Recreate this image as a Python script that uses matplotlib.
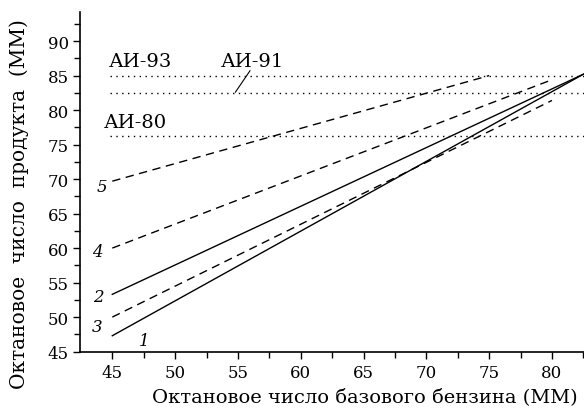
import matplotlib
matplotlib.use('Agg')
import matplotlib.pyplot as plt

plt.rcParams['font.family'] = ['DejaVu Serif']

# curves: start and end points
curve_names = ['1', '2', '3', '4', '5']
curve_x = [[45, 82.5], [45, 82.5], [45, 80.0], [45, 80.0], [45, 75.0]]
curve_y = [[47.3, 85.2], [53.3, 85.2], [50.0, 81.4], [60.0, 84.4], [69.7, 85.0]]
curve_styles = ['-', '-', '--', '--', '--']

# grade levels
grade_names = ['АИ-93', 'АИ-91', 'АИ-80']
grade_levels = [85.0, 82.5, 76.3]

x_ticks = [45, 50, 55, 60, 65, 70, 75, 80]
y_ticks = [45, 50, 55, 60, 65, 70, 75, 80, 85, 90]

fig = plt.figure(figsize=(5.84, 4.10), dpi=100)
ax = fig.add_axes([0.137, 0.14, 0.863, 0.828])

# horizontal dotted grade lines
for level in grade_levels:
    ax.plot([44.8, 83], [level, level], color='black', lw=1.0, linestyle=(0, (1, 3.2)))

# curves
for name, xs, ys, style in zip(curve_names, curve_x, curve_y, curve_styles):
    if style == '--':
        ax.plot(xs, ys, color='black', lw=1.0, linestyle=(0, (6, 4)))
    else:
        ax.plot(xs, ys, color='black', lw=1.0)

# curve numbers
num_pos = {'1': (47.5, 46.0), '2': (43.9, 52.3), '3': (43.8, 48.0), '4': (43.8, 58.8), '5': (44.2, 68.3)}
for name in curve_names:
    ax.text(num_pos[name][0], num_pos[name][1], name, fontsize=12, style='italic', ha='center')

# grade labels
ax.text(44.7, 86.4, grade_names[0], fontsize=14)
ax.text(53.65, 86.4, grade_names[1], fontsize=14)
ax.text(44.3, 77.5, grade_names[2], fontsize=14)
ax.plot([55.96, 54.8], [85.7, 82.6], color='black', lw=0.8)

ax.set_xlim(42.43, 82.55)
ax.set_ylim(45, 94.2)
ax.set_xticks(x_ticks)
ax.set_yticks(y_ticks)
ax.set_xticks([x + 2.5 for x in x_ticks], minor=True)
ax.set_yticks([y + 2.5 for y in y_ticks], minor=True)
ax.tick_params(axis='both', which='major', labelsize=12, length=5, width=1.0, direction='out')
ax.tick_params(axis='x', which='major', pad=4)
ax.tick_params(axis='y', which='major', pad=3)
ax.tick_params(axis='both', which='minor', length=4, width=1.0, direction='out')

ax.spines['top'].set_visible(False)
ax.spines['right'].set_visible(False)
ax.spines['left'].set_linewidth(1.2)
ax.spines['bottom'].set_linewidth(1.2)

fig.text(365 / 584, 1 - 397 / 410, 'Октановое число базового бензина (ММ)', fontsize=14,
         ha='center', va='center')
fig.text(19 / 584, 1 - 204 / 410, 'Октановое  число  продукта  (ММ)', fontsize=14.5,
         ha='center', va='center', rotation=90)

fig.savefig('out.png', dpi=100)
